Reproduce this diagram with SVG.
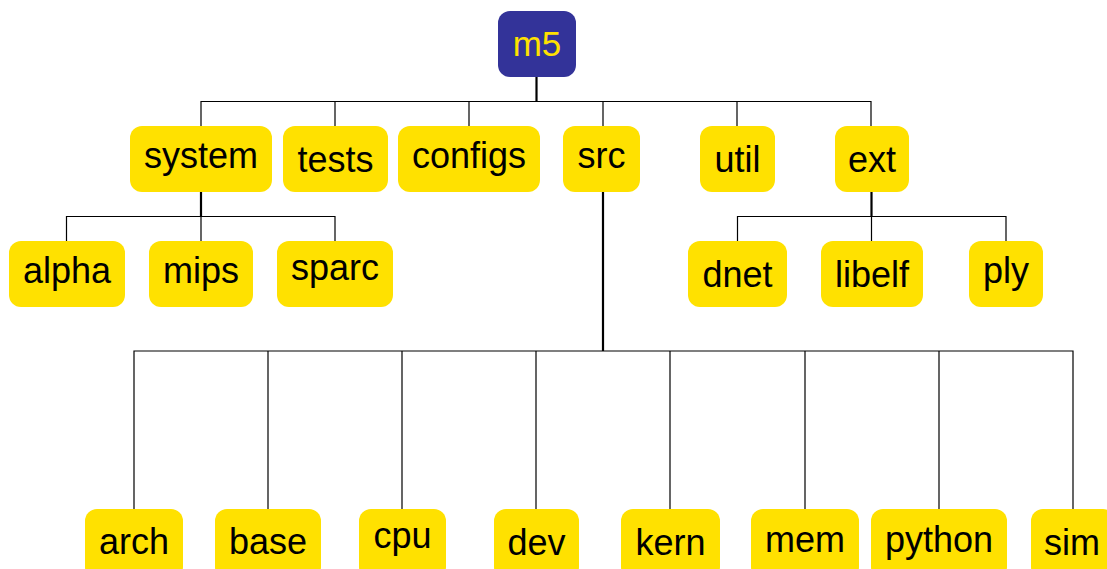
<svg xmlns="http://www.w3.org/2000/svg" width="1107" height="569" viewBox="0 0 1107 569">
<style>
.b{fill:#ffe100}
.r{fill:#333399}
.t{font-family:"Liberation Sans",Arial,sans-serif;font-size:36px;text-anchor:middle;fill:#000}
.rt{fill:#ffe100;font-size:35px}
.l{stroke:#000;stroke-width:1.2;fill:none}
.s{stroke:#000;stroke-width:2.2;fill:none}
</style>
<rect width="1107" height="569" fill="#fff"/>
<g id="connectors">
<path class="s" d="M536.5,77V101.5"/>
<path class="l" d="M201,126V101.5H871V126M335,101.5V126M469,101.5V126M603,101.5V126M737,101.5V126"/>
<path class="s" d="M201,192V216.5M871.5,192V216.5M603,192V351"/>
<path class="l" d="M66.5,241V216.5H335V241M201,216.5V241"/>
<path class="l" d="M737.5,241V216.5H1006V241M871.5,216.5V241"/>
<path class="l" d="M134,509V351H1073V509M268,351V509M402,351V509M536,351V509M670,351V509M805,351V509M939,351V509"/>
</g>
<g id="m5"><rect class="r" x="498" y="11" width="78" height="66" rx="12"/><text class="t rt" x="537" y="56">m5</text></g>
<g id="system"><rect class="b" x="130" y="126" width="142" height="66" rx="12"/><text class="t" x="201" y="168">system</text></g>
<g id="tests"><rect class="b" x="283" y="126" width="105" height="66" rx="12"/><text class="t" x="335.5" y="172">tests</text></g>
<g id="configs"><rect class="b" x="398" y="126" width="142" height="66" rx="12"/><text class="t" x="469" y="168">configs</text></g>
<g id="src"><rect class="b" x="563" y="126" width="77" height="66" rx="12"/><text class="t" x="601.5" y="168">src</text></g>
<g id="util"><rect class="b" x="700" y="126" width="75" height="66" rx="12"/><text class="t" x="737.5" y="172">util</text></g>
<g id="ext"><rect class="b" x="835" y="126" width="74" height="66" rx="12"/><text class="t" x="872" y="172">ext</text></g>
<g id="alpha"><rect class="b" x="9" y="241" width="116" height="66" rx="12"/><text class="t" x="67" y="283">alpha</text></g>
<g id="mips"><rect class="b" x="149" y="241" width="104" height="66" rx="12"/><text class="t" x="201" y="283">mips</text></g>
<g id="sparc"><rect class="b" x="277" y="241" width="116" height="66" rx="12"/><text class="t" x="335" y="280">sparc</text></g>
<g id="dnet"><rect class="b" x="688" y="241" width="99" height="66" rx="12"/><text class="t" x="737.5" y="287">dnet</text></g>
<g id="libelf"><rect class="b" x="821" y="241" width="102" height="66" rx="12"/><text class="t" x="872" y="287">libelf</text></g>
<g id="ply"><rect class="b" x="969" y="241" width="74" height="66" rx="12"/><text class="t" x="1006" y="283">ply</text></g>
<g id="arch"><rect class="b" x="85" y="509" width="98" height="70" rx="12"/><text class="t" x="134" y="554">arch</text></g>
<g id="base"><rect class="b" x="215" y="509" width="106" height="70" rx="12"/><text class="t" x="268" y="554">base</text></g>
<g id="cpu"><rect class="b" x="359" y="509" width="87" height="70" rx="12"/><text class="t" x="402.5" y="548">cpu</text></g>
<g id="dev"><rect class="b" x="494" y="509" width="85" height="70" rx="12"/><text class="t" x="536.5" y="555">dev</text></g>
<g id="kern"><rect class="b" x="621" y="509" width="99" height="70" rx="12"/><text class="t" x="670.5" y="555">kern</text></g>
<g id="mem"><rect class="b" x="751" y="509" width="108" height="70" rx="12"/><text class="t" x="805" y="552">mem</text></g>
<g id="python"><rect class="b" x="871" y="509" width="136" height="70" rx="12"/><text class="t" x="939" y="552">python</text></g>
<g id="sim"><rect class="b" x="1031" y="509" width="84" height="70" rx="12"/><text class="t" x="1072" y="555">sim</text></g>
</svg>
